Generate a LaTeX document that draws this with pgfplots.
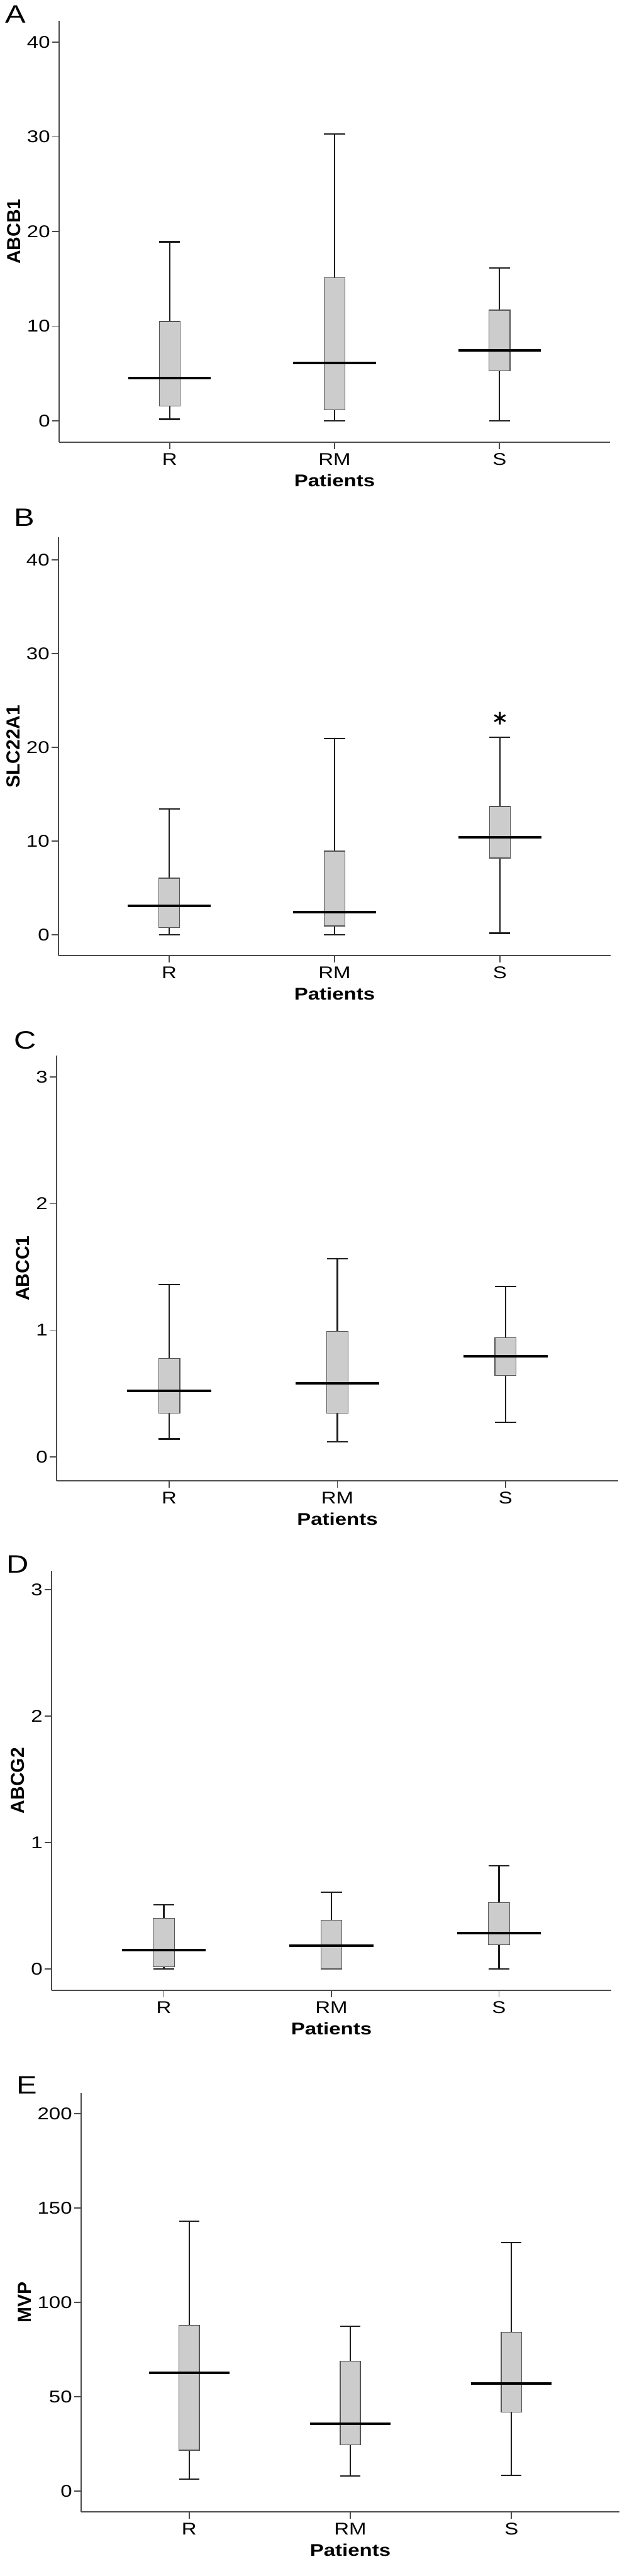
\documentclass[border=0pt]{standalone}
\usepackage{pgfplots}
\pgfplotsset{compat=1.18}
\usepgfplotslibrary{statistics}
\usepackage{fontspec}
\setmainfont{Liberation Sans}[FakeStretch=1.22]
\newfontfamily\yfont{Liberation Sans}
\definecolor{boxfill}{RGB}{204,204,204}
\definecolor{boxedge}{RGB}{85,85,85}
\definecolor{axgray}{RGB}{75,75,75}
\definecolor{whisk}{RGB}{30,30,30}
\pgfplotsset{
  spss/.style={
    scale only axis, anchor=south west,
    axis x line=bottom, axis y line=left,
    axis line style={-, axgray, line width=0.95pt},
    xmin=3.3, xmax=36.7,
    xtick={10,20,30}, xticklabels={R,RM,S},
    tick align=outside, major tick length=5.5pt,
    tick style={axgray, line width=0.8pt},
    minor tick num=0,
    ticklabel style={font=\fontsize{13.5}{15}\selectfont},
    yticklabel style={inner sep=1.5pt},
    /pgf/number format/assume math mode=true,
    xlabel={Patients},
    xlabel style={font=\bfseries\fontsize{13.5}{15}\selectfont},
    ylabel style={font=\yfont\bfseries\fontsize{15}{17}\selectfont},
    boxplot/draw direction=y,
    boxplot/box extend=1.26,
    boxplot/whisker extend=1.26,
    boxplot/every box/.style={draw=boxedge, fill=boxfill, line width=0.7pt},
    boxplot/every whisker/.style={draw=whisk, line width=1.1pt},
    boxplot/every median/.style={draw=none},
    clip=false,
  },
  med/.style={black, line width=2pt, mark=none},
}
\begin{document}
\begin{tikzpicture}
\path[use as bounding box] (0,0) rectangle (498pt,-2047.5pt);
% letters
\node[anchor=base west, inner sep=0pt, font=\fontsize{20}{22}\selectfont] at (4pt,-18.5pt) {A};
\node[anchor=base west, inner sep=0pt, font=\fontsize{20}{22}\selectfont] at (11pt,-418pt) {B};
\node[anchor=base west, inner sep=0pt, font=\fontsize{20}{22}\selectfont] at (11pt,-833.5pt) {C};
\node[anchor=base west, inner sep=0pt, font=\fontsize{20}{22}\selectfont] at (5pt,-1250pt) {D};
\node[anchor=base west, inner sep=0pt, font=\fontsize{20}{22}\selectfont] at (13pt,-1664pt) {E};

% Panel A
\begin{axis}[spss, at={(47pt,-351.5pt)}, width=438pt, height=335pt,
  ymin=-2.26, ymax=42.26, ytick={0,10,20,30,40}, ylabel={ABCB1}]
\addplot[boxplot prepared={draw position=10, lower whisker=0.17, lower quartile=1.56, median=4.5, upper quartile=10.5, upper whisker=18.9}] coordinates {};
\addplot[boxplot prepared={draw position=20, lower whisker=0, lower quartile=1.15, median=6.1, upper quartile=15.1, upper whisker=30.3}] coordinates {};
\addplot[boxplot prepared={draw position=30, lower whisker=0, lower quartile=5.28, median=7.43, upper quartile=11.7, upper whisker=16.15}] coordinates {};
\addplot[med] coordinates {(7.5,4.5) (12.5,4.5)};
\addplot[med] coordinates {(17.5,6.1) (22.5,6.1)};
\addplot[med] coordinates {(27.5,7.43) (32.5,7.43)};
\end{axis}

% Panel B
\begin{axis}[spss, at={(46.5pt,-759.5pt)}, width=439pt, height=332.5pt,
  ymin=-2.21, ymax=42.4, ytick={0,10,20,30,40}, ylabel={SLC22A1}]
\addplot[boxplot prepared={draw position=10, lower whisker=0, lower quartile=0.78, median=3.12, upper quartile=6.04, upper whisker=13.41}] coordinates {};
\addplot[boxplot prepared={draw position=20, lower whisker=0, lower quartile=0.95, median=2.44, upper quartile=8.93, upper whisker=20.92}] coordinates {};
\addplot[boxplot prepared={draw position=30, lower whisker=0.17, lower quartile=8.18, median=10.42, upper quartile=13.68, upper whisker=21.05}] coordinates {};
\addplot[med] coordinates {(7.5,3.12) (12.5,3.12)};
\addplot[med] coordinates {(17.5,2.44) (22.5,2.44)};
\addplot[med] coordinates {(27.5,10.42) (32.5,10.42)};
\addplot[only marks, mark=asterisk, mark size=5pt, line width=1.4pt, black] coordinates {(30,23.1)};
\end{axis}

% Panel C
\begin{axis}[spss, at={(45pt,-1177pt)}, width=446.5pt, height=338pt,
  ymin=-0.19, ymax=3.17, ytick={0,1,2,3}, ylabel={ABCC1}]
\addplot[boxplot prepared={draw position=10, lower whisker=0.141, lower quartile=0.345, median=0.522, upper quartile=0.778, upper whisker=1.36}] coordinates {};
\addplot[boxplot prepared={draw position=20, lower whisker=0.12, lower quartile=0.345, median=0.582, upper quartile=0.99, upper whisker=1.564}] coordinates {};
\addplot[boxplot prepared={draw position=30, lower whisker=0.274, lower quartile=0.642, median=0.796, upper quartile=0.94, upper whisker=1.347}] coordinates {};
\addplot[med] coordinates {(7.5,0.522) (12.5,0.522)};
\addplot[med] coordinates {(17.5,0.582) (22.5,0.582)};
\addplot[med] coordinates {(27.5,0.796) (32.5,0.796)};
\end{axis}

% Panel D
\begin{axis}[spss, at={(41pt,-1582pt)}, width=445pt, height=333.5pt,
  ymin=-0.17, ymax=3.15, ytick={0,1,2,3}, ylabel={ABCG2}]
\addplot[boxplot prepared={draw position=10, lower whisker=0, lower quartile=0.018, median=0.151, upper quartile=0.40, upper whisker=0.509}] coordinates {};
\addplot[boxplot prepared={draw position=20, lower whisker=0, lower quartile=0.0, median=0.185, upper quartile=0.386, upper whisker=0.605}] coordinates {};
\addplot[boxplot prepared={draw position=30, lower whisker=0, lower quartile=0.19, median=0.282, upper quartile=0.524, upper whisker=0.817}] coordinates {};
\addplot[med] coordinates {(7.5,0.151) (12.5,0.151)};
\addplot[med] coordinates {(17.5,0.185) (22.5,0.185)};
\addplot[med] coordinates {(27.5,0.282) (32.5,0.282)};
\end{axis}

% Panel E
\begin{axis}[spss, at={(64.5pt,-1996.5pt)}, width=428pt, height=333pt,
  ymin=-11, ymax=211, ytick={0,50,100,150,200}, ylabel={MVP}]
\addplot[boxplot prepared={draw position=10, lower whisker=6.3, lower quartile=21.7, median=62.8, upper quartile=87.9, upper whisker=143}] coordinates {};
\addplot[boxplot prepared={draw position=20, lower whisker=7.9, lower quartile=24.5, median=35.7, upper quartile=68.9, upper whisker=87.4}] coordinates {};
\addplot[boxplot prepared={draw position=30, lower whisker=8.4, lower quartile=41.8, median=57.0, upper quartile=84.1, upper whisker=131.6}] coordinates {};
\addplot[med] coordinates {(7.5,62.8) (12.5,62.8)};
\addplot[med] coordinates {(17.5,35.7) (22.5,35.7)};
\addplot[med] coordinates {(27.5,57.0) (32.5,57.0)};
\end{axis}
\end{tikzpicture}
\end{document}
